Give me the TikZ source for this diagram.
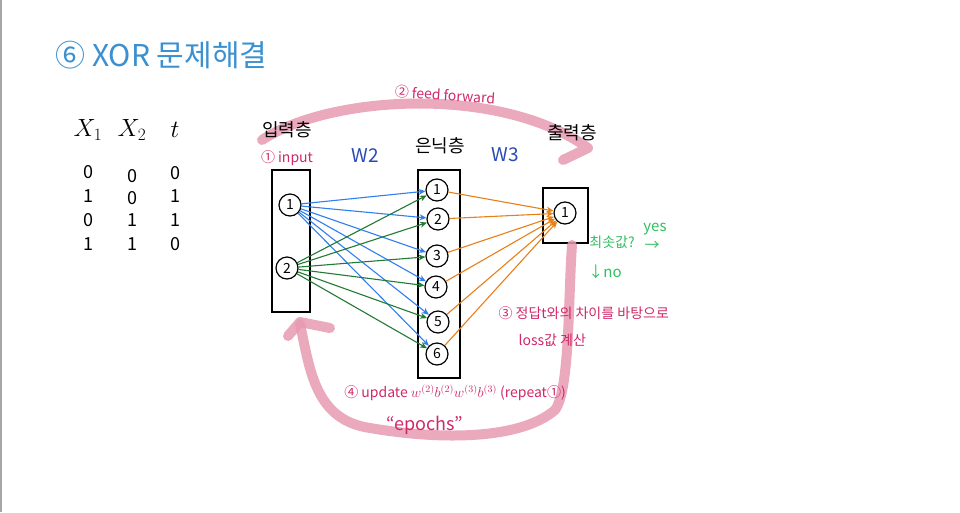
\documentclass[tikz,border=0pt]{standalone}
\usepackage{fontspec}
\setmainfont{Noto Sans CJK KR}
\usepackage{tikz}
\usetikzlibrary{positioning,arrows.meta}
\definecolor{titleblue}{HTML}{3A90D0}
\definecolor{wblue}{HTML}{2A4BB5}
\definecolor{notered}{HTML}{D0286A}
\definecolor{loopink}{HTML}{E79AB2}
\definecolor{yesgreen}{HTML}{30C060}
\definecolor{edgeblue}{HTML}{2F7FF0}
\definecolor{edgegreen}{HTML}{237A35}
\definecolor{edgeorange}{HTML}{E8801A}
\tikzset{neuron/.style={draw,circle,line width=1.2pt,minimum size=22pt,inner sep=0pt,font=\fontsize{14}{14}\selectfont},
  layerbox/.style={draw,line width=1.2pt},
  bluew/.style={-{Stealth[length=7pt,width=6pt]},draw=edgeblue,line width=1.1pt},
  greenw/.style={-{Stealth[length=7pt,width=6pt]},draw=edgegreen,line width=1.1pt},
  orangew/.style={-{Stealth[length=7pt,width=6pt]},draw=edgeorange,line width=1.1pt},
  loopline/.style={draw=loopink,line width=10pt,line cap=round,line join=round,opacity=0.85},
  note/.style={text=notered,font=\fontsize{14}{14}\selectfont},
  tabval/.style={font=\fontsize{18}{18}\selectfont},
  layername/.style={font=\fontsize{18}{18}\selectfont}}

\begin{document}
\begin{tikzpicture}[x=1pt,y=-1pt]
	\useasboundingbox (0,0) rectangle (960,512);
	\fill[white] (0,0) rectangle (960,512);
	\draw[gray!70,line width=1.5pt] (1,0) -- (1,512);
	% title
	\node[text=titleblue,font=\fontsize{30}{30}\selectfont,anchor=west] (title) at (52,55) {⑥ XOR 문제해결};
	% truth table
	\node[font=\fontsize{24}{24}\selectfont] (x1) at (88,130) {$X_1$};
	\node[font=\fontsize{24}{24}\selectfont] (x2) at (132,130) {$X_2$};
	\node[font=\fontsize{24}{24}\selectfont] (t) at (175,130) {$t$};
	\node[tabval] (r11) at (88,172) {0};  \node[tabval] (r12) at (132,176) {0}; \node[tabval] (r13) at (175,173) {0};
	\node[tabval] (r21) at (88,196) {1};  \node[tabval] (r22) at (132,198) {0}; \node[tabval] (r23) at (175,196) {1};
	\node[tabval] (r31) at (88,220) {0};  \node[tabval] (r32) at (132,220) {1}; \node[tabval] (r33) at (175,220) {1};
	\node[tabval] (r41) at (88,244) {1};  \node[tabval] (r42) at (132,244) {1}; \node[tabval] (r43) at (175,244) {0};
	% feed forward arc
	\draw[loopline] (262,140) .. controls (330,95) and (500,85) .. (588,148) -- (563,160);
	\node[note,rotate=-4] (ff) at (445,95) {② feed forward};
	% layers
	\draw[layerbox] (272,170) rectangle (310,312);
	\draw[layerbox] (418,170) rectangle (460,378);
	\draw[layerbox] (543,188) rectangle (588,243);
	\node[layername] (inlayer) at (287,130) {입력층};
	\node[note] (inp) at (287,158) {① input};
	\node[text=wblue,font=\fontsize{19}{19}\selectfont] (w2) at (365,156) {W2};
	\node[layername] (hidlayer) at (440,146) {은닉층};
	\node[text=wblue,font=\fontsize{19}{19}\selectfont] (w3) at (505,155) {W3};
	\node[layername] (outlayer) at (572,133) {출력층};
	% nodes
	\node[neuron] (i1) at (290,205) {1};
	\node[neuron] (i2) at (287,268) {2};
	\node[neuron] (h1) at (437,190) {1};
	\node[neuron] (h2) at (438,219) {2};
	\node[neuron] (h3) at (437,256) {3};
	\node[neuron] (h4) at (436,287) {4};
	\node[neuron] (h5) at (438,322) {5};
	\node[neuron] (h6) at (437,354) {6};
	\node[neuron] (o1) at (565,213) {1};
	% W2
	\draw[bluew] (i1) to (h1);
	\draw[bluew] (i1) to (h2);
	\draw[bluew] (i1) to (h3);
	\draw[bluew] (i1) to (h4);
	\draw[bluew] (i1) to (h5);
	\draw[bluew] (i1) to (h6);
	\draw[greenw] (i2) to (h1);
	\draw[greenw] (i2) to (h2);
	\draw[greenw] (i2) to (h3);
	\draw[greenw] (i2) to (h4);
	\draw[greenw] (i2) to (h5);
	\draw[greenw] (i2) to (h6);
	% W3
	\draw[orangew] (h1) to (o1);
	\draw[orangew] (h2) to (o1);
	\draw[orangew] (h3) to (o1);
	\draw[orangew] (h4) to (o1);
	\draw[orangew] (h5) to (o1);
	\draw[orangew] (h6) to (o1);
	% check
	\node[text=yesgreen,font=\fontsize{14}{14}\selectfont] (minq) at (612,242) {최솟값?};
	\node[text=yesgreen,font=\fontsize{15}{15}\selectfont] (yes) at (655,229) {yes};
	\node[text=yesgreen,font=\fontsize{15}{15}\selectfont] (yesarr) at (652,246) {→};
	\node[text=yesgreen,font=\fontsize{15}{15}\selectfont] (no) at (605,272) {↓no};
	% back propagation loop
	\draw[loopline] (300,324) .. controls (310,370) and (315,420) .. (370,428)
		.. controls (440,440) and (520,440) .. (555,410)
		.. controls (570,390) and (568,300) .. (572,245);
	\draw[loopline] (288,336) -- (300,322) -- (330,328);
	\node[note,anchor=west] (loss1) at (495,313) {③ 정답t와의 차이를 바탕으로};
	\node[note,anchor=west] (loss2) at (515,340) {loss값 계산};
	\node[note] (upd) at (455,393) {④ update $w^{(2)}b^{(2)}w^{(3)}b^{(3)}$ (repeat①)};
	\node[note,font=\fontsize{18}{18}\selectfont] (ep) at (425,425) {“epochs”};
\end{tikzpicture}
\end{document}
